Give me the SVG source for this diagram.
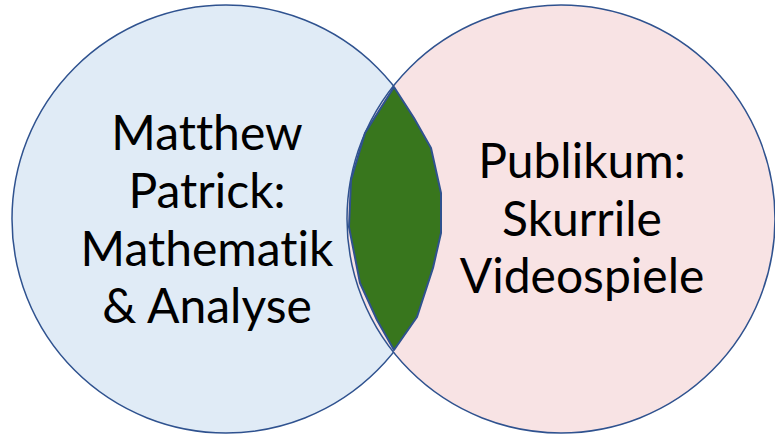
<svg xmlns="http://www.w3.org/2000/svg" width="775" height="435" viewBox="0 0 775 435">
  <style>
    .set { stroke: #2f528f; stroke-width: 1.5; }
    .lens { fill: #38761d; stroke: #2f528f; stroke-width: 2; stroke-linejoin: round; }
    .label { font-family: Lato, "Open Sans", "Liberation Sans", sans-serif; font-size: 48px; fill: #000; text-anchor: middle; font-variant-ligatures: none; }
  </style>
  <rect width="775" height="435" fill="#ffffff"/>
  <g id="set-left">
    <circle class="set" cx="226" cy="219" r="214" fill="#e0ebf6"/>
  </g>
  <g id="set-right">
    <circle class="set" cx="561" cy="219" r="214" fill="#f8e3e4"/>
  </g>
  <g id="overlap">
    <path class="lens" d="M394,87 L365,133 L351,180 L349,227 L360,283 L377,320 L394,350 L417,317 L433,268 L441,233 L441,193 L431,148 L414,118 Z"/>
  </g>
  <g id="label-left">
    <text class="label" x="207" y="150">Matthew</text>
    <text class="label" x="207" y="208">Patrick:</text>
    <text class="label" x="207" y="266">Mathematik</text>
    <text class="label" x="207" y="323">&amp; Analyse</text>
  </g>
  <g id="label-right">
    <text class="label" x="582" y="178">Publikum:</text>
    <text class="label" x="582" y="236">Skurrile</text>
    <text class="label" x="582" y="293">Videospiele</text>
  </g>
</svg>
